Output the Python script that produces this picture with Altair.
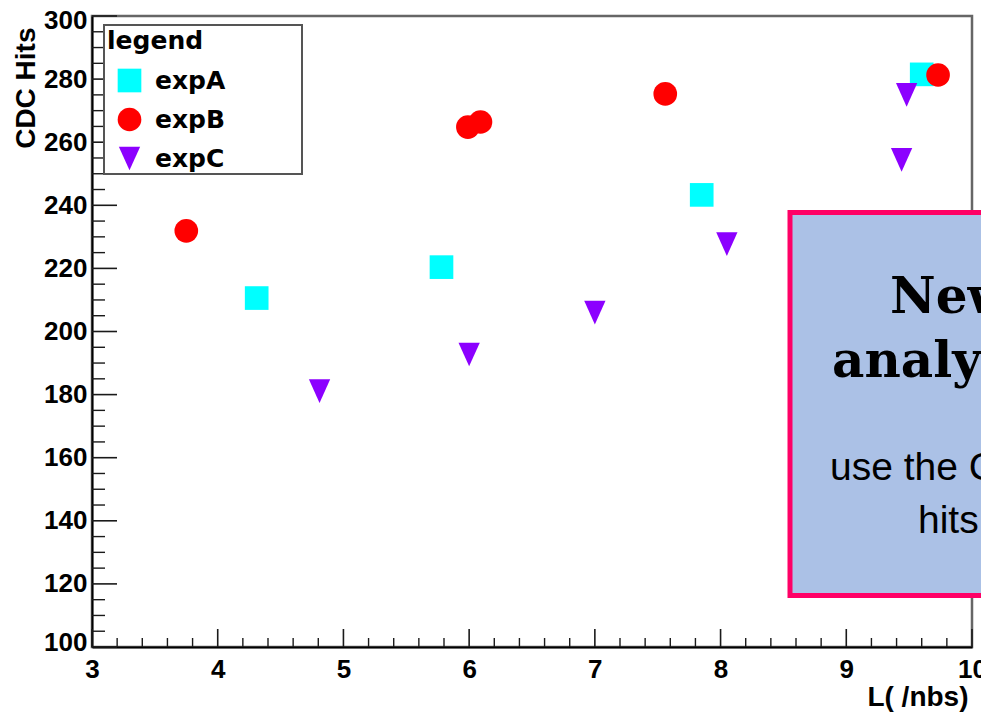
import altair as alt
import pandas as pd

# ---- measured points ----
series_names = ["expA", "expB", "expC"]
expA_L = [4.31, 5.78, 7.85, 9.60]
expA_hits = [210.6, 220.4, 243.3, 281.5]
expB_L = [3.75, 5.99, 6.09, 7.56, 9.73]
expB_hits = [231.9, 264.8, 266.4, 275.3, 281.3]
expC_L = [4.81, 6.00, 7.00, 8.05, 9.44, 9.48]
expC_hits = [181.1, 192.7, 206.0, 227.7, 254.4, 275.0]

marker_colors = ["#00ffff", "#ff0000", "#8c00ff"]
# square, circle, and a slightly tall downward triangle
marker_shapes = ["square", "circle", "M-0.9,-1L0.9,-1L0,1Z"]

# ---- axis ticks ----
x_major = [3, 4, 5, 6, 7, 8, 9, 10]
x_minor = [round(3 + 0.2 * i, 1) for i in range(36) if i % 5]
y_major = [100, 120, 140, 160, 180, 200, 220, 240, 260, 280, 300]
y_minor = [v for v in range(100, 301, 5) if v % 20]

# ---- note box text ----
note_title = ["New", "analysis"]
note_body = ["use the CDC", "hits"]

W, H = 880, 631

rows = []
for name, xs, ys in [("expA", expA_L, expA_hits), ("expB", expB_L, expB_hits), ("expC", expC_L, expC_hits)]:
    for xv, yv in zip(xs, ys):
        rows.append({"series": name, "L": xv, "hits": yv})
points_df = pd.DataFrame(rows)

xscale = alt.Scale(domain=[3, 10], nice=False, zero=False)
yscale = alt.Scale(domain=[100, 300], nice=False, zero=False)

BOLD_SANS = "Liberation Sans"

xaxis = alt.Axis(
    values=x_major, format="d", labelFont=BOLD_SANS, labelFontWeight="bold",
    labelFontSize=26, labelColor="black", labelPadding=9, labelFlush=False,
    labelOverlap=False, ticks=False, tickSize=0, grid=False,
    domain=True, domainColor="black", domainWidth=2,
    title="L( /nbs)", titleFont=BOLD_SANS, titleFontWeight="bold", titleFontSize=28,
    titleColor="black", titleX=876, titleY=58, titleAlign="right",
    titleBaseline="alphabetic",
)
yaxis = alt.Axis(
    values=y_major, format="d", labelFont=BOLD_SANS, labelFontWeight="bold",
    labelFontSize=26, labelColor="black", labelPadding=5, labelFlush=False,
    labelOverlap=False, ticks=False, tickSize=0, grid=False,
    labelOffset={"condition": [{"test": "datum.value == 300", "value": 4},
                               {"test": "datum.value == 100", "value": -5}],
                 "value": 0},
    domain=True, domainColor="black", domainWidth=2,
    title="CDC Hits", titleFont=BOLD_SANS, titleFontWeight="bold", titleFontSize=28,
    titleColor="black", titleAngle=270, titleX=-58, titleY=11, titleAlign="right",
    titleBaseline="alphabetic",
)


def X(field):
    return alt.X(field, type="quantitative", scale=xscale, axis=xaxis)


def Y(field):
    return alt.Y(field, type="quantitative", scale=yscale, axis=yaxis)


tick_color = "#1a1a1a"

xt_major = alt.Chart(pd.DataFrame({"L": x_major})).mark_rule(color=tick_color, strokeWidth=1.6).encode(
    x=X("L"), y=alt.value(H), y2=alt.value(H - 18))
xt_minor = alt.Chart(pd.DataFrame({"L": x_minor})).mark_rule(color=tick_color, strokeWidth=1.4).encode(
    x=X("L"), y=alt.value(H), y2=alt.value(H - 9))
yt_major = alt.Chart(pd.DataFrame({"hits": y_major})).mark_rule(color=tick_color, strokeWidth=1.6).encode(
    y=Y("hits"), x=alt.value(0), x2=alt.value(25))
yt_minor = alt.Chart(pd.DataFrame({"hits": y_minor})).mark_rule(color=tick_color, strokeWidth=1.4).encode(
    y=Y("hits"), x=alt.value(0), x2=alt.value(13))

legend = alt.Legend(
    title="legend", orient="none", legendX=15, legendY=13, padding=0,
    titleFont="DejaVu Sans", titleFontWeight="bold", titleFontSize=25, titleColor="black",
    titlePadding=14, titleBaseline="top",
    labelFont="DejaVu Sans", labelFontWeight="bold", labelFontSize=25, labelColor="black",
    rowPadding=13, symbolOffset=10, labelOffset=13, symbolSize=560,
    symbolStrokeWidth=0, symbolOpacity=1,
)

points = alt.Chart(points_df).mark_point(filled=True, size=560, opacity=1, strokeWidth=0).encode(
    x=X("L"),
    y=Y("hits"),
    color=alt.Color("series:N", scale=alt.Scale(domain=series_names, range=marker_colors), legend=legend),
    shape=alt.Shape("series:N", scale=alt.Scale(domain=series_names, range=marker_shapes), legend=legend),
)

one = pd.DataFrame({"k": [0]})

legend_frame = alt.Chart(one).mark_rect(fill="white", stroke="#555555", strokeWidth=2).encode(
    x=alt.value(12), x2=alt.value(210), y=alt.value(9), y2=alt.value(158))

note_box = alt.Chart(one).mark_rect(fill="#abc1e6", stroke="#ff0066", strokeWidth=5).encode(
    x=alt.value(698), x2=alt.value(1250), y=alt.value(196.5), y2=alt.value(579.5))

serif = dict(align="left", baseline="alphabetic", font="DejaVu Serif", fontWeight="bold",
             fontSize=50, color="black")
sans = dict(align="left", baseline="alphabetic", font="Liberation Sans", fontSize=39, color="black")

note_t1 = alt.Chart(one).mark_text(**serif).encode(x=alt.value(798), y=alt.value(297), text=alt.value(note_title[0]))
note_t2 = alt.Chart(one).mark_text(**serif).encode(x=alt.value(740), y=alt.value(361), text=alt.value(note_title[1]))
note_b1 = alt.Chart(one).mark_text(**sans).encode(x=alt.value(738), y=alt.value(464), text=alt.value(note_body[0]))
note_b2 = alt.Chart(one).mark_text(**sans).encode(x=alt.value(826), y=alt.value(517), text=alt.value(note_body[1]))

chart = alt.layer(
    xt_minor, xt_major, yt_minor, yt_major, points, legend_frame,
    note_box, note_t1, note_t2, note_b1, note_b2,
).properties(
    width=W, height=H,
    autosize=alt.AutoSizeParams(type="none"),
    padding={"left": 92, "top": 16, "right": 9, "bottom": 65},
).configure(background="white").configure_view(stroke="#666666", strokeWidth=2.5)

chart.save("out.html", embed_options={"renderer": "svg", "actions": False})
